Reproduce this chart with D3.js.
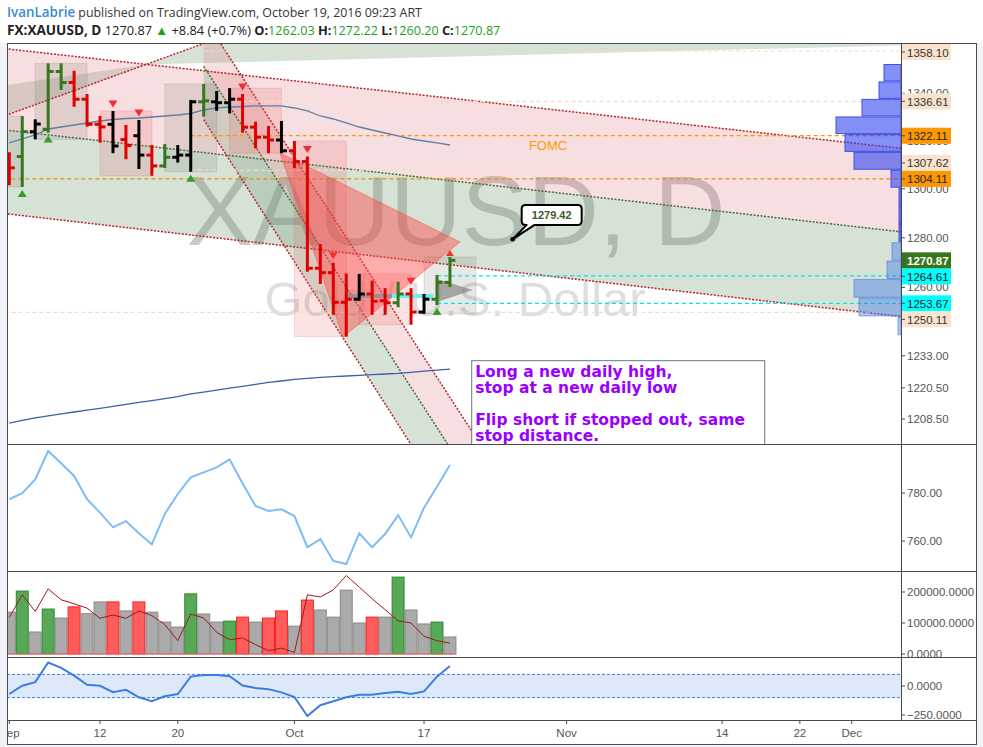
<!DOCTYPE html>
<html><head><meta charset="utf-8">
<script src="https://cdn.jsdelivr.net/npm/d3@7"></script>
<style>
body{margin:0;background:#eff3f7;}
svg{display:block;}
</style></head><body>
<script>
// ---------------- DATA ----------------
const dates=['Sep 1','Sep 2','Sep 5','Sep 6','Sep 7','Sep 8','Sep 9','Sep 12','Sep 13','Sep 14','Sep 15','Sep 16','Sep 19','Sep 20','Sep 21','Sep 22','Sep 23','Sep 26','Sep 27','Sep 28','Sep 29','Sep 30','Oct 3','Oct 4','Oct 5','Oct 6','Oct 7','Oct 10','Oct 11','Oct 12','Oct 13','Oct 14','Oct 17','Oct 18','Oct 19'];
const opens =[1313.4,1313.4,1323.8,1324.8,1349.3,1344.6,1337.5,1326.9,1326.9,1320.5,1322.1,1314.0,1309.5,1313.1,1314.0,1336.4,1336.4,1336.0,1337.5,1325.7,1321.5,1320.3,1315.8,1311.3,1267.7,1265.9,1254.1,1255.3,1257.4,1254.7,1253.9,1257.4,1250.2,1255.3,1262.03];
const highs =[1315.2,1330.4,1329.0,1352.8,1352.8,1349.6,1339.7,1330.4,1332.5,1326.6,1328.7,1318.2,1318.6,1318.2,1337.2,1344.0,1341.0,1342.2,1339.7,1328.0,1326.2,1328.3,1319.9,1313.4,1277.4,1269.9,1265.6,1265.4,1262.7,1259.7,1262.3,1259.7,1257.4,1265.0,1272.22];
const lows  =[1301.5,1300.8,1320.6,1323.4,1341.4,1334.3,1325.9,1319.2,1314.8,1312.3,1308.2,1305.4,1308.6,1310.9,1307.1,1330.1,1332.6,1331.5,1323.4,1316.8,1314.8,1314.8,1308.6,1266.3,1261.4,1249.1,1240.5,1254.7,1249.1,1249.1,1252.1,1245.2,1249.5,1253.0,1260.20];
const closes=[1308.7,1323.8,1327.0,1349.3,1344.6,1337.5,1326.9,1325.8,1317.8,1318.0,1314.0,1309.5,1313.1,1314.0,1336.4,1336.8,1336.0,1337.5,1325.7,1321.5,1320.3,1315.8,1311.3,1267.7,1265.9,1254.1,1255.3,1257.4,1254.5,1253.9,1257.4,1250.2,1255.3,1262.03,1270.87];
const barColors=['r','g','k','g','g','r','r','r','k','r','k','r','g','k','k','g','k','k','r','r','r','k','r','r','r','r','r','k','r','r','g','r','k','g','g'];
const upMarks=[1,3,14,33];
const downMarks=[8,10,18,23,25,31];
const smaFast=[1319.06,1320.73,1322.41,1324.92,1325.76,1326.60,1327.45,1328.29,1328.92,1329.34,1329.55,1329.97,1330.40,1330.82,1331.45,1332.93,1333.78,1334.20,1334.41,1334.63,1334.63,1334.63,1333.78,1332.51,1330.40,1329.13,1327.45,1325.76,1324.50,1323.24,1321.99,1320.73,1319.89,1319.06,1318.22];
const smaSlow=[1206.91,1207.95,1208.91,1209.67,1210.44,1211.20,1211.89,1212.62,1213.40,1214.09,1214.86,1215.59,1216.36,1217.14,1218.14,1218.84,1219.60,1220.38,1221.11,1221.89,1222.63,1223.17,1223.79,1224.22,1224.57,1224.84,1225.11,1225.38,1225.62,1225.89,1226.16,1226.55,1226.98,1227.36,1227.75];
const weekStart=[-3,2,7,12,17,22,27,32];
const weekEnd  =[1,6,11,16,21,26,31,36];
const oscValues=[777.4,779.9,785.7,797.5,792.4,787.1,777.4,771.8,765.7,768.3,763.2,758.6,771.3,779.6,786.5,788.6,790.7,794.0,784.0,774.6,772.5,773.2,770.4,757.4,760.8,751.7,750.4,763.2,757.4,762.9,770.8,761.5,773.9,782.6,791.7];
const volumes=[135000,203000,71000,145000,116000,152000,130000,168000,168000,139000,168000,135000,103000,87000,194000,129000,103000,106000,119000,103000,116000,139000,90000,174000,142000,119000,206000,100000,119000,119000,248000,142000,97000,103000,55000];
const volColors=['n','g','n','g','n','r','n','n','r','n','r','n','n','n','g','n','n','g','r','n','r','r','n','r','n','n','n','n','r','n','g','n','n','g','n'];
const volMA=[118000,191000,137000,210000,175000,162000,148000,115000,126000,115000,139000,124000,95000,43000,129000,116000,70000,46000,52000,30000,11000,19000,5000,191000,184000,207000,253000,216000,178000,143000,107000,100000,57000,43000,35000];
const cciValues=[-69,2,33,203,157,89,10,2,-53,-33,-97,-131,-89,-69,81,95,95,84,4,-18,-27,-55,-95,-259,-166,-131,-97,-75,-75,-60,-49,-69,-47,81,172];
const cciBand=[100,-100];
const vpLow=[1345.07,1337.64,1330.21,1322.78,1315.35,1307.92,1300.49,1293.06,1285.63,1278.20,1270.77,1263.34,1255.91,1248.48,1241.05];
const vpBin=7.43;
const vpVolume=[17,22,39,65,56,47,10,2,2,2,9,14,47,42,3];
const priceTicks=[1340,1320,1300,1280,1260,1246,1233,1220.5,1208.5];
const oscTicks=[780,760];
const volTicks=[200000,100000,0];
const cciTicks=[0,-250];
const timeTickIdx=[0,7,13,22,32,43,55,61,65];
const timeTickLab=['Sep','12','20','Oct','17','Nov','14','22','Dec'];
// horizontal levels: price, start bar index, kind
const levelPrice=[1358.10,1336.61,1322.11,1307.62,1304.11,1264.61,1253.67,1250.11];
const levelStart=[15,18,14,14,-2,33,33,-2];
const levelKind=['beige','beige','orange','beige','orange2','cyan','cyan','beige'];
const lastPrice=1270.87;
// drawings (bar index, price)
const bigTop=[[0,1358.9],[68,1317.3]];
const bigMid=[[0,1324.31],[68,1282.9]];
const bigLow=[[0,1289.63],[68,1248.9]];
const steepStart=15;
const steep1=[[18.96,1295.42],[30.92,1199.35]];
const steep2=[[21.66,1295.42],[33.77,1199.35]];
const steep3=[[24.13,1295.42],[35.78,1203.17]];
const riseLine=[[-0.18,1330.82],[15.1,1361.55]];
const wedgeLeft=[[-0.18,1343.54],[10.55,1352.3],[-0.18,1330.82]];
const wedgeTop=[[10.55,1352.3],[15.1,1361.55],[70,1366],[70,1360.68]];
const redTri=[[20.89,1314.89],[34.78,1278.29],[25.75,1240.36]];
const grayTri=[[33.0,1263.38],[35.78,1258.99],[33.0,1254.2]];
const graySeg=[[26.05,1256.6],[29.53,1256.6]];
const cyanSeg=[[29.53,1256.6],[32.69,1256.6]];
const callout={i:38.84,price:1279.42,text:'1279.42'};
const fomc={i:41.57,price:1322.11,text:'FOMC'};
const noteBox={i:35.68,price:1231.07,lines:['Long a new daily high,','stop at a new daily low','','Flip short if stopped out, same','stop distance.']};

// ---------------- LAYOUT ----------------
const W=983,H=747,L=7,R=901,RE=977;
const mainT=43,mainB=444,oscB=571,volB=657,cciB=720,axB=745;
const svg=d3.select('body').append('svg').attr('width',W).attr('height',H);
const defs=svg.append('defs');
function clip(id,x0,y0,w,h){defs.append('clipPath').attr('id',id).append('rect').attr('x',x0).attr('y',y0).attr('width',w).attr('height',h);}
clip('cMain',L,mainT,R-L,mainB-mainT);
clip('cOsc',L,mainB,R-L,oscB-mainB);
clip('cVol',L,oscB,R-L,volB-oscB);
clip('cCci',L,volB,R-L,cciB-volB);
clip('cX',L,cciB,RE-L,axB-cciB);

svg.append('rect').attr('width',W).attr('height',H).attr('fill','#eff3f7');
svg.append('rect').attr('width',W).attr('height',mainT).attr('fill','#ffffff');
svg.append('rect').attr('x',L).attr('y',mainT).attr('width',RE-L).attr('height',axB-mainT).attr('fill','#ffffff');

const x=d3.scaleLinear().domain([0,68]).range([9.3,9.3+68*12.96]);
const y=d3.scaleLog().domain([1361.55,1198.97]).range([mainT,mainB]);
const yOsc=d3.scaleLinear().domain([780,760]).range([493,541]);
const yVol=d3.scaleLinear().domain([0,200000]).range([654,592]);
const yCci=d3.scaleLinear().domain([0,-250]).range([686,715]);
const bw=12.96;
const pt=d=>[x(d[0]),y(d[1])];
function ext(a,b,t0,t1){return [[a[0]+(b[0]-a[0])*t0,a[1]+(b[1]-a[1])*t0],[a[0]+(b[0]-a[0])*t1,a[1]+(b[1]-a[1])*t1]];}
// extend line a-b starting at pixel x = xs (forward only)
function extFrom(a,b,xs){const t0=(xs-a[0])/(b[0]-a[0]);return ext(a,b,t0,12);}

// ---------------- HEADER ----------------
const hf='Open Sans, sans-serif';
const h1=svg.append('text').attr('x',7).attr('y',17).attr('font-family',hf).attr('font-size',12.4).attr('fill','#333');
h1.append('tspan').attr('fill','#3a8bd0').attr('font-weight',600).attr('font-size',13.4).text('IvanLabrie');
h1.append('tspan').text(' published on TradingView.com, October 19, 2016 09:23 ART');
const h2=svg.append('text').attr('x',7).attr('y',35).attr('font-family',hf).attr('font-size',13).attr('fill','#222');
h2.append('tspan').attr('font-weight',700).attr('font-size',13.6).text('FX:XAUUSD, D');
h2.append('tspan').attr('font-size',12.8).text(' 1270.87 ');
h2.append('tspan').attr('fill','#1e9e1e').text('▲');
h2.append('tspan').attr('font-size',12.8).text(' +8.84 (+0.7%) ');
[['O:','1262.03'],['H:','1272.22'],['L:','1260.20'],['C:','1270.87']].forEach(([k,v],j)=>{
  h2.append('tspan').attr('font-weight',700).attr('font-size',12.8).text(' '+k);
  h2.append('tspan').attr('fill','#1e9e1e').attr('font-size',12.6).text(v);
});

// ---------------- MAIN PANE ----------------
const gm=svg.append('g').attr('clip-path','url(#cMain)');
const pinkFill='rgba(220,110,120,0.22)', greenFill='rgba(110,150,110,0.28)';
const redDot='#b5252b', greenDot='#4a6a36';
function segs(l,xs){const a=pt(l[0]),b=pt(l[1]);return xs==null?ext(a,b,-12,12):extFrom(a,b,xs);}
function band(l1,l2,fill,xs){
  const a=segs(l1,xs), b=segs(l2,xs);
  gm.append('path').attr('d','M'+[a[0],a[1],b[1],b[0]].map(p=>p.join(',')).join('L')+'Z').attr('fill',fill);
}
function dline(l,color,xs){
  const a=segs(l,xs);
  gm.append('line').attr('x1',a[0][0]).attr('y1',a[0][1]).attr('x2',a[1][0]).attr('y2',a[1][1])
    .attr('stroke',color).attr('stroke-width',1.5).attr('stroke-dasharray','2,1.5');
}
// watermark
gm.append('text').attr('x',456).attr('y',245).attr('text-anchor','middle').attr('font-family','Liberation Sans, Arial, sans-serif')
  .attr('font-size',99).attr('fill','rgba(90,90,90,0.32)').text('XAUUSD, D');
gm.append('text').attr('x',455).attr('y',316).attr('text-anchor','middle').attr('font-family','Liberation Sans, Arial, sans-serif')
  .attr('font-size',49).attr('fill','rgba(90,90,90,0.2)').text('Gold / U.S. Dollar');

// wedge areas
gm.append('path').attr('d','M'+wedgeLeft.map(pt).map(p=>p.join(',')).join('L')+'Z').attr('fill',greenFill);
gm.append('path').attr('d','M'+wedgeTop.map(pt).map(p=>p.join(',')).join('L')+'Z').attr('fill',greenFill);
// big channel
band(bigTop,bigMid,pinkFill);
band(bigMid,bigLow,greenFill);
// steep channel (starts at its first bar)
const xs=x(steepStart);
band(steep1,steep2,greenFill,xs);
band(steep2,steep3,pinkFill,xs);
dline(bigTop,redDot);dline(bigMid,greenDot);dline(bigLow,redDot);
dline(steep1,redDot,xs);dline(steep2,greenDot,xs);dline(steep3,redDot,xs);
dline(riseLine,redDot);

// weekly range boxes
weekStart.forEach((s,k)=>{
  const e=weekEnd[k];
  const idx=d3.range(Math.max(0,s),Math.min(e,highs.length-1)+1);
  const hi=d3.max(idx,i=>highs[i]), lo=d3.min(idx,i=>lows[i]);
  const up=closes[idx[idx.length-1]]>=opens[idx[0]];
  gm.append('rect').attr('x',x(s)).attr('y',y(hi)).attr('width',x(e)-x(s)).attr('height',y(lo)-y(hi))
    .attr('fill',up?'rgba(120,115,105,0.16)':'rgba(230,80,80,0.16)')
    .attr('stroke',up?'rgba(120,115,105,0.2)':'rgba(230,80,80,0.2)');
});

// horizontal levels
const levelStyle={beige:{c:'#f5dcc0',bg:'#fae3cc',t:'#333'},orange:{c:'#ff9800',bg:'#ff9800',t:'#222'},orange2:{c:'#e8900c',bg:'#ff9800',t:'#222'},cyan:{c:'#00e5ee',bg:'#00ffff',t:'#222'}};
levelPrice.forEach((p,k)=>{
  const s=levelStyle[levelKind[k]];
  gm.append('line').attr('x1',x(levelStart[k])).attr('x2',R).attr('y1',y(p)).attr('y2',y(p))
    .attr('stroke',s.c).attr('stroke-width',1.2).attr('stroke-dasharray','4,3');
});
// fomc text
gm.append('text').attr('x',x(fomc.i)).attr('y',y(fomc.price)+14).attr('text-anchor','middle')
  .attr('font-family','Liberation Sans, Arial, sans-serif').attr('font-size',13).attr('fill','#ff9800').text(fomc.text);

// SMA lines
const lineMain=d3.line().x((d,i)=>x(i)).y(d=>y(d));
gm.append('path').attr('d',lineMain(smaFast)).attr('fill','none').attr('stroke','#5f7fa3').attr('stroke-width',1.3);
gm.append('path').attr('d',lineMain(smaSlow)).attr('fill','none').attr('stroke','#3c5fa8').attr('stroke-width',1.3);

// triangles
gm.append('path').attr('d','M'+redTri.map(pt).map(p=>p.join(',')).join('L')+'Z').attr('fill','rgba(255,70,70,0.45)').attr('stroke','rgba(255,70,70,0.5)');
gm.append('path').attr('d','M'+grayTri.map(pt).map(p=>p.join(',')).join('L')+'Z').attr('fill','rgba(110,110,110,0.55)');
[[graySeg,'rgba(140,140,140,0.8)'],[cyanSeg,'#66f0f0']].forEach(([s,c])=>{
  gm.append('line').attr('x1',x(s[0][0])).attr('x2',x(s[1][0])).attr('y1',y(s[0][1])).attr('y2',y(s[1][1])).attr('stroke',c).attr('stroke-width',4);
});

// volume profile
const vpScale=d3.scaleLinear().domain([0,65]).range([0,65]);
vpLow.forEach((lo,k)=>{
  const y0=y(lo+vpBin)+0.5, y1=y(lo)-0.5, w=vpScale(vpVolume[k]);
  const upper=k<10;
  gm.append('rect').attr('x',R-w).attr('y',y0).attr('width',w).attr('height',y1-y0)
    .attr('fill',upper?'rgba(50,70,240,0.6)':'rgba(60,120,230,0.42)')
    .attr('stroke',upper?'rgba(40,60,235,0.85)':'rgba(60,120,230,0.6)').attr('stroke-width',1);
});

// bars
const colMap={r:'#e00000',g:'#38761d',k:'#000000'};
const gb=gm.append('g');
opens.forEach((o,i)=>{
  const cx=x(i), c=colMap[barColors[i]];
  gb.append('line').attr('x1',cx).attr('x2',cx).attr('y1',y(highs[i])).attr('y2',y(lows[i])).attr('stroke',c).attr('stroke-width',3);
  gb.append('line').attr('x1',cx-5.5).attr('x2',cx).attr('y1',y(o)).attr('y2',y(o)).attr('stroke',c).attr('stroke-width',3);
  gb.append('line').attr('x1',cx).attr('x2',cx+5.5).attr('y1',y(closes[i])).attr('y2',y(closes[i])).attr('stroke',c).attr('stroke-width',3);
});
upMarks.forEach(i=>{const cx=x(i),cy=y(lows[i])+6;
  gm.append('path').attr('d',`M${cx-4.5},${cy+4}L${cx+4.5},${cy+4}L${cx},${cy-3}Z`).attr('fill','#2e9e2e');});
downMarks.forEach(i=>{const cx=x(i),cy=y(highs[i])-7;
  gm.append('path').attr('d',`M${cx-4.5},${cy-3.5}L${cx+4.5},${cy-3.5}L${cx},${cy+3.5}Z`).attr('fill','#f03030');});
{const i=34,cx=x(i),cy=y(highs[i])-4;gm.append('path').attr('d',`M${cx-4},${cy+3}L${cx+4},${cy+3}L${cx},${cy-3}Z`).attr('fill','#f03030');}

// callout
{const ax=x(callout.i), ay=y(callout.price), bx=ax+9, by=ay-34.3, w=60, h=20, r=4;
 const d=`M${bx+r},${by}H${bx+w-r}Q${bx+w},${by} ${bx+w},${by+r}V${by+h-r}Q${bx+w},${by+h} ${bx+w-r},${by+h}H${ax+22}L${ax},${ay}L${ax+14},${by+h}H${bx+r}Q${bx},${by+h} ${bx},${by+h-r}V${by+r}Q${bx},${by} ${bx+r},${by}Z`;
 gm.append('path').attr('d',d).attr('fill','#fff').attr('stroke','#000').attr('stroke-width',2).attr('stroke-linejoin','round');
 gm.append('circle').attr('cx',ax).attr('cy',ay).attr('r',2.3).attr('fill','#000');
 gm.append('text').attr('x',bx+w/2).attr('y',by+14).attr('text-anchor','middle').attr('font-family','Liberation Sans, Arial, sans-serif')
   .attr('font-size',11).attr('font-weight',700).attr('fill','#3b5a2c').text(callout.text);
}
// note box
{const bx=x(noteBox.i), by=y(noteBox.price);
 gm.append('rect').attr('x',bx).attr('y',by).attr('width',293).attr('height',120).attr('fill','#fff').attr('stroke','#62798a').attr('stroke-width',1);
 noteBox.lines.forEach((t,k)=>{ if(!t) return;
   gm.append('text').attr('x',bx+3.5).attr('y',by+16+k*16.2).attr('font-family','DejaVu Sans, sans-serif').attr('font-weight',700)
     .attr('font-size',15.5).attr('fill','#9a00ff').text(t);});
}

// ---------------- OSC PANE ----------------
svg.append('g').attr('clip-path','url(#cOsc)').append('path')
  .attr('d',d3.line().x((d,i)=>x(i)).y(d=>yOsc(d))(oscValues)).attr('fill','none').attr('stroke','#7dbdf7').attr('stroke-width',2);

// ---------------- VOLUME PANE ----------------
const gv=svg.append('g').attr('clip-path','url(#cVol)');
const vFill={n:'#aaaaaa',g:'#57a957',r:'#ff5c5c'}, vStroke={n:'#8a8a8a',g:'#2a8a2a',r:'#ff1f1f'};
volumes.forEach((v,i)=>{
  gv.append('rect').attr('x',x(i)-bw/2+0.5).attr('y',yVol(v)).attr('width',bw-1).attr('height',yVol(0)-yVol(v))
    .attr('fill',vFill[volColors[i]]).attr('stroke',vStroke[volColors[i]]).attr('stroke-width',1);
});
gv.append('line').attr('x1',L).attr('x2',x(34)+bw/2).attr('y1',yVol(0)).attr('y2',yVol(0)).attr('stroke','#ff6060').attr('stroke-width',1);
gv.append('path').attr('d',d3.line().x((d,i)=>x(i)).y(d=>yVol(d))(volMA)).attr('fill','none').attr('stroke','#a01818').attr('stroke-width',1);

// ---------------- CCI PANE ----------------
const gc=svg.append('g').attr('clip-path','url(#cCci)');
gc.append('rect').attr('x',L).attr('y',yCci(cciBand[0])).attr('width',R-L).attr('height',yCci(cciBand[1])-yCci(cciBand[0])).attr('fill','#dde8f9');
cciBand.forEach(b=>gc.append('line').attr('x1',L).attr('x2',R).attr('y1',yCci(b)).attr('y2',yCci(b)).attr('stroke','#3c7de0').attr('stroke-width',1).attr('stroke-dasharray','3,2'));
gc.append('path').attr('d',d3.line().x((d,i)=>x(i)).y(d=>yCci(d))(cciValues)).attr('fill','none').attr('stroke','#3c7de0').attr('stroke-width',2);

// ---------------- FRAMES ----------------
svg.append('rect').attr('x',L+0.5).attr('y',mainT+0.5).attr('width',RE-L-1).attr('height',axB-mainT-1).attr('fill','none').attr('stroke','#4a4a4a');
svg.append('line').attr('x1',R+0.5).attr('x2',R+0.5).attr('y1',mainT).attr('y2',cciB).attr('stroke','#4a4a4a');
[mainB,oscB,volB,cciB].forEach(v=>svg.append('line').attr('x1',L).attr('x2',RE).attr('y1',v+0.5).attr('y2',v+0.5).attr('stroke','#4a4a4a'));

// ---------------- AXES ----------------
const axFont='Liberation Sans, Arial, sans-serif';
function yTicks(vals,sc,fmt,lo,hi){
  vals.forEach(v=>{const yy=sc(v); if(yy<lo||yy>hi) return;
    svg.append('line').attr('x1',R).attr('x2',R+4).attr('y1',yy).attr('y2',yy).attr('stroke','#4a4a4a');
    svg.append('text').attr('x',R+6).attr('y',yy+4).attr('font-family',axFont).attr('font-size',11.5).attr('fill','#555').text(fmt(v));});
}
yTicks(priceTicks,y,d3.format('.2f'),mainT,mainB);
yTicks(oscTicks,yOsc,d3.format('.2f'),mainB,oscB);
yTicks(volTicks,yVol,d3.format('.4f'),oscB,volB);
yTicks(cciTicks,yCci,d3.format('.4f'),volB,cciB);

// price labels with collision handling
{
  const labs=levelPrice.map((p,k)=>({p,y:y(p),s:levelStyle[levelKind[k]],txt:d3.format('.2f')(p)}));
  const last={p:lastPrice,y:y(lastPrice),s:{bg:'#38761d',t:'#fff'},txt:d3.format('.2f')(lastPrice),bold:true};
  const hgt=16;
  const above=labs.filter(d=>d.y<last.y).sort((a,b)=>b.y-a.y);
  const below=labs.filter(d=>d.y>=last.y).sort((a,b)=>a.y-b.y);
  let prev=last.y; above.forEach(d=>{d.ly=Math.min(d.y,prev-hgt);prev=d.ly;});
  prev=last.y; below.forEach(d=>{d.ly=Math.max(d.y,prev+hgt);prev=d.ly;});
  last.ly=last.y;
  [...labs,last].forEach(d=>{
    const ly=Math.max(mainT+9,d.ly);
    svg.append('rect').attr('x',R+1).attr('y',ly-8).attr('width',49).attr('height',16).attr('fill',d.s.bg);
    svg.append('line').attr('x1',R).attr('x2',R+4).attr('y1',ly).attr('y2',ly).attr('stroke','#4a4a4a');
    svg.append('text').attr('x',R+6).attr('y',ly+4.5).attr('font-family',axFont).attr('font-size',11.5)
      .attr('font-weight',d.bold?700:400).attr('fill',d.s.t).text(d.txt);
  });
}
// time axis
const gx=svg.append('g').attr('clip-path','url(#cX)');
timeTickIdx.forEach((i,k)=>{
  gx.append('line').attr('x1',x(i)).attr('x2',x(i)).attr('y1',cciB).attr('y2',cciB+4).attr('stroke','#4a4a4a');
  gx.append('text').attr('x',x(i)).attr('y',cciB+17).attr('text-anchor','middle').attr('font-family',axFont).attr('font-size',11.5).attr('fill','#555').text(timeTickLab[k]);
});
</script>
</body></html>
